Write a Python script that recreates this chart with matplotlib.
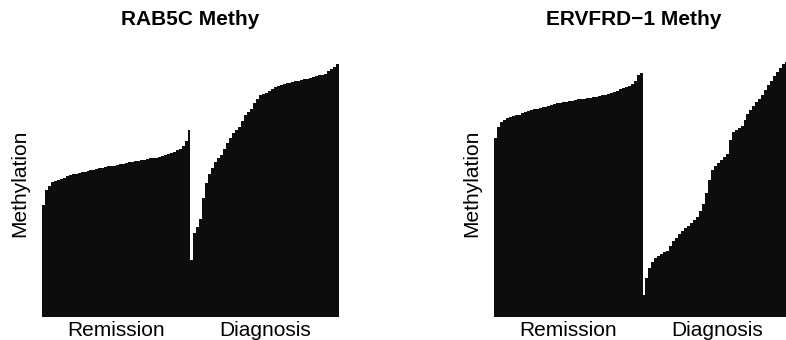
import matplotlib
matplotlib.use("Agg")
import matplotlib.pyplot as plt
import numpy as np

plt.rcParams['font.family'] = ['Liberation Sans', 'DejaVu Sans']

#sample groups
groups = ['Remission', 'Diagnosis']

#RAB5C methylation, sorted within each group
rab5c_remission = [0.419, 0.476, 0.491, 0.506, 0.509, 0.513, 0.517, 0.521, 0.528, 0.532,
                   0.534, 0.536, 0.539, 0.543, 0.545, 0.547, 0.551, 0.552, 0.554, 0.558,
                   0.560, 0.562, 0.566, 0.566, 0.567, 0.569, 0.573, 0.575, 0.577, 0.581,
                   0.582, 0.584, 0.586, 0.588, 0.590, 0.592, 0.594, 0.596, 0.597, 0.601,
                   0.603, 0.607, 0.610, 0.614, 0.618, 0.624, 0.629, 0.640, 0.659, 0.700]
rab5c_diagnosis = [0.213, 0.315, 0.337, 0.367, 0.446, 0.502, 0.536, 0.558, 0.581, 0.596,
                   0.607, 0.629, 0.652, 0.670, 0.689, 0.700, 0.712, 0.734, 0.757, 0.768,
                   0.779, 0.801, 0.816, 0.831, 0.835, 0.839, 0.846, 0.854, 0.861, 0.865,
                   0.869, 0.873, 0.876, 0.878, 0.880, 0.884, 0.886, 0.888, 0.890, 0.893,
                   0.895, 0.899, 0.903, 0.906, 0.908, 0.912, 0.921, 0.929, 0.936, 0.948]

#ERVFRD-1 methylation, sorted within each group
ervfrd_remission = [0.670, 0.712, 0.730, 0.738, 0.745, 0.751, 0.753, 0.757, 0.758, 0.764,
                    0.768, 0.772, 0.775, 0.779, 0.781, 0.783, 0.787, 0.788, 0.790, 0.794,
                    0.798, 0.800, 0.801, 0.805, 0.807, 0.809, 0.811, 0.813, 0.815, 0.816,
                    0.818, 0.820, 0.822, 0.824, 0.826, 0.828, 0.831, 0.833, 0.835, 0.839,
                    0.843, 0.848, 0.854, 0.858, 0.863, 0.867, 0.873, 0.884, 0.906, 0.914]
ervfrd_diagnosis = [0.082, 0.146, 0.184, 0.206, 0.221, 0.228, 0.236, 0.242, 0.247, 0.266,
                    0.285, 0.296, 0.311, 0.322, 0.333, 0.341, 0.352, 0.363, 0.375, 0.397,
                    0.423, 0.464, 0.513, 0.551, 0.566, 0.577, 0.588, 0.599, 0.610, 0.663,
                    0.693, 0.700, 0.708, 0.715, 0.738, 0.760, 0.775, 0.790, 0.805, 0.816,
                    0.831, 0.850, 0.869, 0.884, 0.903, 0.918, 0.933, 0.948, 0.955, 0.963]

panels = [
    ('RAB5C Methy', rab5c_remission, rab5c_diagnosis, 0.0534, 0.5),
    ('ERVFRD\u22121 Methy', ervfrd_remission, ervfrd_diagnosis, 0.6285, 0.47),
]

fig = plt.figure(figsize=(7.86, 3.4), dpi=100)

for title, rem, diag, left, title_x in panels:
    ax = fig.add_axes([left, 0.0676, 0.3779, 0.785])
    values = rem + diag
    x = np.arange(len(values))
    ax.bar(x, values, width=1.0, color='#0d0d0d', linewidth=0)

    ax.set_xlim(-0.5, len(values) - 0.5)
    ax.set_ylim(0, 1)
    for s in ax.spines.values():
        s.set_visible(False)
    ax.set_xticks([])
    ax.set_yticks([])

    #group labels under each half
    centers = [(len(rem) - 1) / 2, len(rem) + (len(diag) - 1) / 2]
    for c, g in zip(centers, groups):
        ax.text(c, -0.015, g, ha='center', va='top', fontsize=15,
                transform=ax.get_xaxis_transform())

    ax.set_ylabel('Methylation', fontsize=15, labelpad=9)

    #title sits near the top edge of the figure
    fx = left + 0.3779 * title_x
    fig.text(fx, 1 - 25 / 340, title, ha='center', va='baseline',
             fontsize=15, fontweight='bold')

fig.savefig('out.png', dpi=100)
